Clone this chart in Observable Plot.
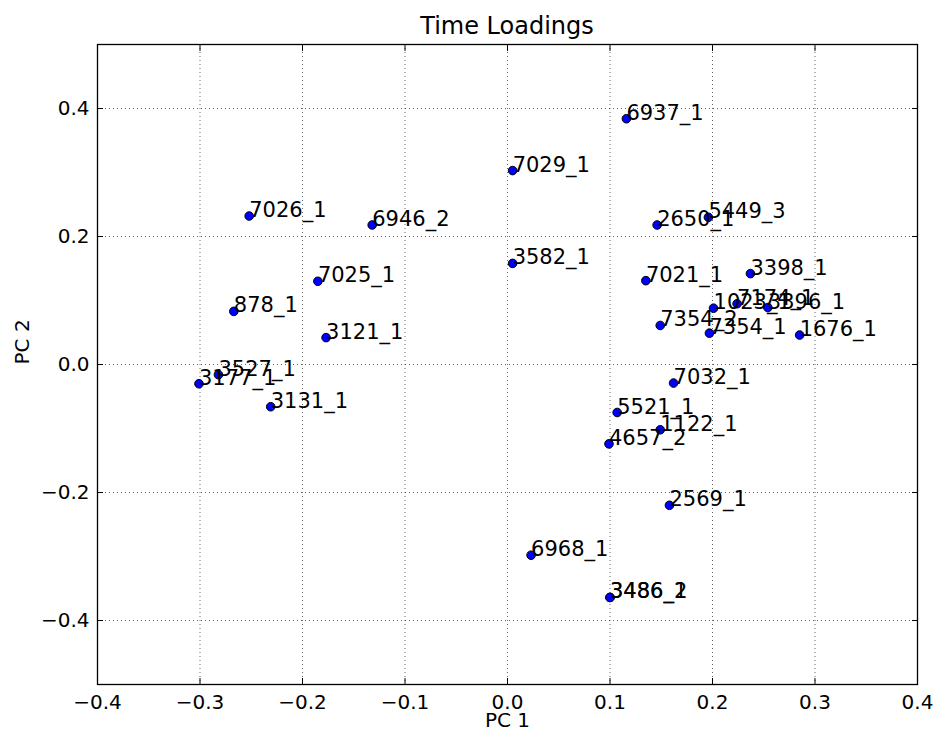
<!DOCTYPE html>
<html>
<head>
<meta charset="utf-8">
<script src="https://cdn.jsdelivr.net/npm/d3@7"></script>
<script src="https://cdn.jsdelivr.net/npm/@observablehq/plot@0.6"></script>
<style>
  html, body { margin: 0; padding: 0; background: #fff; }
  #title { width: 934px; height: 36px; overflow: visible; text-align: center; font-family: "DejaVu Sans", sans-serif; font-size: 24px; line-height: 28px; padding-top: 12px; box-sizing: border-box; color: #000; padding-left: 80px; white-space: nowrap; }
</style>
</head>
<body>
<div id="title">Time Loadings</div>
<div id="chart"></div>
<script>
const names = ["6937_1","7029_1","7026_1","6946_2","2650_1","5449_3","3582_1","7025_1","7021_1","3398_1","1023_1","7174_1","3396_1","7354_2","7354_1","1676_1","878_1","3121_1","3527_1","3177_1","3131_1","7032_1","5521_1","1122_1","4657_2","2569_1","6968_1","3486_2","3486_1"];
const pc1 = [0.116, 0.005, -0.252, -0.132, 0.146, 0.196, 0.005, -0.185, 0.135, 0.237, 0.201, 0.224, 0.254, 0.149, 0.197, 0.285, -0.267, -0.177, -0.282, -0.301, -0.231, 0.162, 0.107, 0.149, 0.099, 0.158, 0.023, 0.100, 0.100];
const pc2 = [0.384, 0.303, 0.232, 0.218, 0.218, 0.230, 0.158, 0.130, 0.131, 0.142, 0.088, 0.095, 0.089, 0.061, 0.049, 0.046, 0.083, 0.042, -0.016, -0.030, -0.066, -0.029, -0.075, -0.102, -0.124, -0.220, -0.298, -0.364, -0.364];
const xTicks = [-0.4, -0.3, -0.2, -0.1, 0.0, 0.1, 0.2, 0.3, 0.4];
const yTicks = [-0.4, -0.2, 0.0, 0.2, 0.4];

const data = names.map((n, i) => ({name: n, x: pc1[i], y: pc2[i]}));
const fmt = d3.format(".1f");

const chart = Plot.plot({
  width: 934,
  height: 696,
  marginLeft: 97,
  marginRight: 17,
  marginTop: 8,
  marginBottom: 48,
  style: {fontFamily: "DejaVu Sans, sans-serif", fontSize: "20px", color: "#000", background: "#fff", overflow: "visible"},
  x: {domain: [-0.4, 0.4], label: null},
  y: {domain: [-0.5, 0.5], label: null},
  marks: [
    Plot.gridX(xTicks, {stroke: "#000", strokeOpacity: 0.6, strokeDasharray: "1,3"}),
    Plot.gridY(yTicks, {stroke: "#000", strokeOpacity: 0.6, strokeDasharray: "1,3"}),
    Plot.axisX(xTicks, {anchor: "bottom", tickSize: -6, tickPadding: 16, tickFormat: fmt, fontSize: 20}),
    Plot.axisX(xTicks, {anchor: "top", tickSize: -6, tickFormat: () => ""}),
    Plot.axisY(yTicks, {anchor: "left", tickSize: -6, tickPadding: 14, tickFormat: fmt, fontSize: 20}),
    Plot.axisY(yTicks, {anchor: "right", tickSize: -6, tickFormat: () => ""}),
    Plot.text(["PC 1"], {frameAnchor: "bottom", dy: 42, fontSize: 20}),
    Plot.text(["PC 2"], {frameAnchor: "left", dx: -75, rotate: -90, fontSize: 20}),
    Plot.frame({stroke: "#000", strokeWidth: 1.3}),
    Plot.dot(data, {x: "x", y: "y", r: 4.3, fill: "#0000ff", stroke: "#000", strokeWidth: 1}),
    Plot.text(data, {x: "x", y: "y", text: "name", textAnchor: "start", lineAnchor: "bottom", dy: 1, dx: 0, fontSize: 21, fill: "#000"})
  ]
});
document.getElementById("chart").appendChild(chart);
</script>
</body>
</html>
